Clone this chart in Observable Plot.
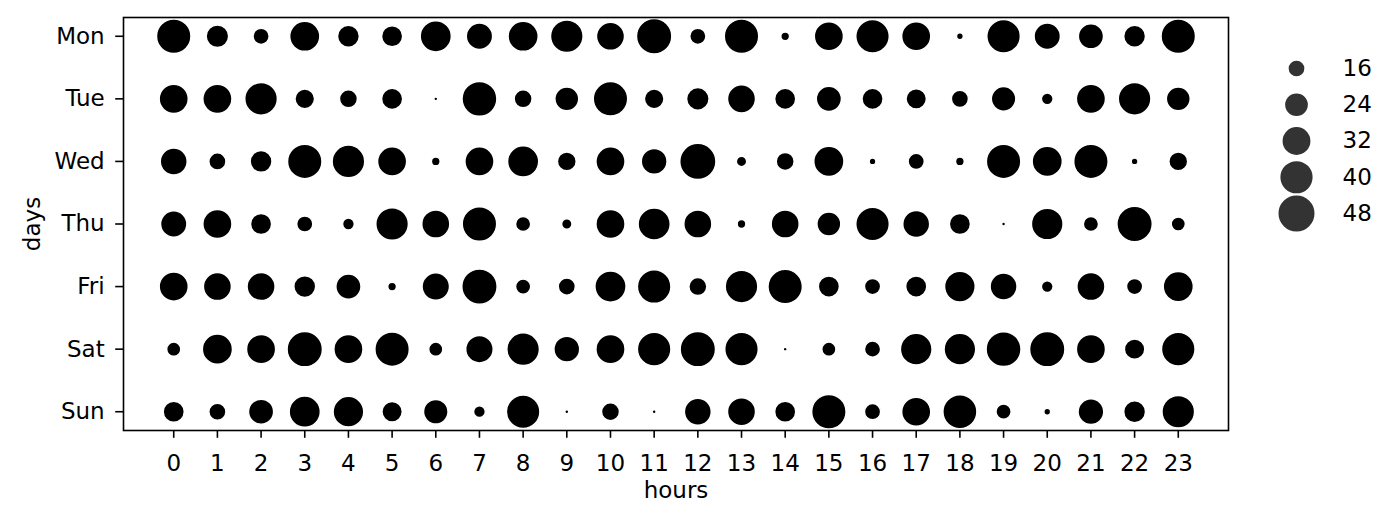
<!DOCTYPE html>
<html><head><meta charset="utf-8">
<script src="https://cdn.jsdelivr.net/npm/d3@7"></script>
<script src="https://cdn.jsdelivr.net/npm/@observablehq/plot@0.6"></script>
<style>
body{margin:0;background:#fff;}
#wrap{position:relative;width:1400px;height:523px;overflow:hidden;}
#main{position:absolute;left:0;top:0;}
#legend{position:absolute;left:1250px;top:0;}
</style></head><body><div id="wrap"><div id="main"></div><div id="legend"></div></div>
<script>
const days = ["Mon","Tue","Wed","Thu","Fri","Sat","Sun"];
const hours = ["0","1","2","3","4","5","6","7","8","9","10","11","12","13","14","15","16","17","18","19","20","21","22","23"];
const mon = [48,26,18,39,25,24,41,32,39,44,35,50,18,48,12,37,46,37,11,46,32,30,25,48];
const tue = [37,37,44,22,20,24,10,49,20,28,48,22,26,35,24,30,24,23,19,29,14,37,44,28];
const wed = [33,19,25,48,44,37,12,37,41,21,37,31,52,13,20,39,11,18,12,48,39,48,11,21];
const thu = [32,37,24,18,14,44,35,48,17,13,37,43,35,12,35,28,46,33,24,10,42,17,50,16];
const fri = [37,35,35,25,30,12,34,50,17,19,41,46,20,44,48,24,18,24,40,33,14,35,18,39];
const sat = [16,39,37,50,37,48,16,34,44,31,37,46,50,46,10,16,18,42,42,49,50,37,23,46];
const sun = [24,19,30,41,40,23,29,14,46,10,20,10,33,35,24,48,18,37,47,17,11,31,25,44];
const legendValues = [16,24,32,40,48];
const sizeFloor = 9.5;

const series = [mon, tue, wed, thu, fri, sat, sun];
const table = days.flatMap((day, i) => series[i].map((v, h) => ({day, hour: hours[h], value: v})));
const rScale = {type: "sqrt", domain: [0, 45], range: [0, 18.65]};
const font = "DejaVu Sans, sans-serif";

const main = Plot.plot({
  width: 1400, height: 523,
  marginLeft: 123, marginRight: 172, marginTop: 17, marginBottom: 93,
  style: {fontFamily: font, fontSize: "23px", color: "black", background: "white", overflow: "visible"},
  x: {type: "point", domain: hours, padding: 1.15, round: false},
  y: {type: "point", domain: days, padding: 0.3, round: false},
  r: rScale,
  marks: [
    Plot.dot(table, {x: "hour", y: "day", r: d => d.value - sizeFloor, fill: "black", stroke: "white", strokeWidth: 1.5}),
    Plot.frame({stroke: "black", strokeWidth: 1.6}),
    Plot.axisX({tickSize: 7.8, tickPadding: 16, fontSize: 23, strokeWidth: 1.6, label: "hours", labelAnchor: "center", labelArrow: "none", labelOffset: 67}),
    Plot.axisY({tickSize: 7.8, tickPadding: 11, fontSize: 23, strokeWidth: 1.6, label: "days", labelAnchor: "center", labelArrow: "none", labelOffset: 100})
  ]
});
document.getElementById("main").appendChild(main);

const legend = Plot.plot({
  width: 150, height: 523,
  marginLeft: 0, marginRight: 58, marginTop: 68, marginBottom: 310,
  style: {fontFamily: font, fontSize: "23px", color: "black", background: "transparent", overflow: "visible"},
  x: {axis: null},
  y: {type: "point", domain: legendValues, padding: 0, axis: null, round: false},
  r: rScale,
  marks: [
    Plot.dot(legendValues, {y: d => d, r: d => d - sizeFloor, fill: "#333333", stroke: "#333333", strokeWidth: 1.5}),
    Plot.text(legendValues, {y: d => d, text: d => String(d), frameAnchor: "right", textAnchor: "start", fill: "black", fontSize: 23})
  ]
});
document.getElementById("legend").appendChild(legend);
</script></body></html>
